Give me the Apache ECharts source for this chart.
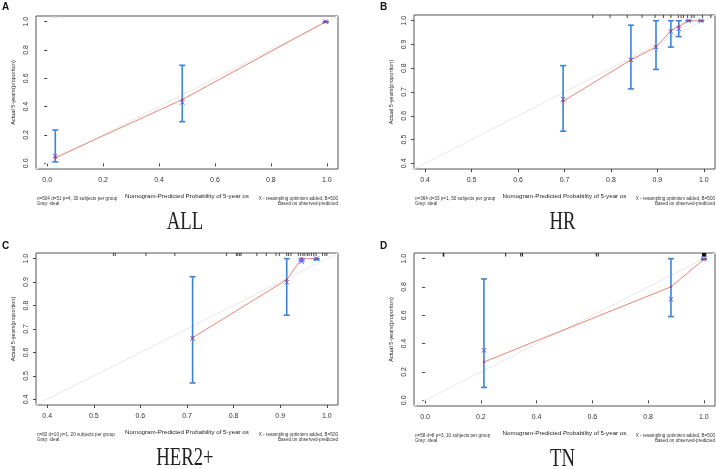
<!DOCTYPE html>
<html><head><meta charset="utf-8">
<script src="https://cdn.jsdelivr.net/npm/echarts@6/dist/echarts.min.js"></script>
<style>html,body{margin:0;padding:0;background:#fff}#c{width:716px;height:469px}</style>
</head><body><div id="c"></div>
<script>
// ---- Panel A (ALL) ----
const predA = [0.029, 0.483, 0.996];
const obsA  = [0.040, 0.450, 1.000];
const corrA = [0.051, 0.430, 1.000];
const lowA  = [0.010, 0.294, 0.995];
const highA = [0.235, 0.692, 1.000];
const rugA  = [0.015, 0.022, 0.030, 0.041, 0.052];
const ticksA = [0.0, 0.2, 0.4, 0.6, 0.8, 1.0];
const rangeA = [-0.04, 1.04];
// ---- Panel B (HR) ----
const predB = [0.697, 0.843, 0.897, 0.929, 0.946, 0.967, 0.994];
const obsB  = [0.661, 0.835, 0.889, 0.958, 0.976, 1.000, 1.000];
const corrB = [0.670, 0.835, 0.889, 0.955, 0.966, 1.000, 1.000];
const lowB  = [0.535, 0.713, 0.795, 0.889, 0.933, 1.000, 1.000];
const highB = [0.811, 0.981, 1.000, 1.000, 1.000, 1.000, 1.000];
const rugB  = [0.761, 0.798, 0.835, 0.867, 0.895, 0.913, 0.929, 0.945, 0.951, 0.956, 0.965, 0.974, 0.979, 0.997, 1.015];
const ticksB = [0.4, 0.5, 0.6, 0.7, 0.8, 0.9, 1.0];
const rangeB = [0.376, 1.024];
// ---- Panel C (HER2+) ----
const predC = [0.712, 0.914, 0.946, 0.978];
const obsC  = [0.663, 0.910, 1.000, 1.000];
const corrC = [0.660, 0.899, 0.987, 1.000];
const lowC  = [0.470, 0.759, 0.990, 0.995];
const highC = [0.923, 1.000, 1.000, 1.000];
const rugC  = [0.542, 0.546, 0.612, 0.674, 0.785, 0.806, 0.809, 0.813, 0.816, 0.850, 0.870, 0.891, 0.898, 0.914, 0.918, 0.923, 0.939, 0.944, 0.949, 0.953, 0.958, 0.962, 0.967, 0.972, 0.977, 0.991, 0.996, 1.000];
const ticksC = [0.4, 0.5, 0.6, 0.7, 0.8, 0.9, 1.0];
const rangeC = [0.376, 1.024];
// ---- Panel D (TN) ----
const predD = [0.211, 0.882, 1.000];
const obsD  = [0.271, 0.801, 0.995];
const corrD = [0.353, 0.713, 1.000];
const lowD  = [0.091, 0.591, 0.995];
const highD = [0.857, 1.000, 1.000];
const rugD  = [0.065, 0.067, 0.289, 0.343, 0.349, 0.614, 0.621, 0.995, 0.997, 0.999, 1.001, 1.003, 1.005, 1.007];
const ticksD = [0.0, 0.2, 0.4, 0.6, 0.8, 1.0];
const rangeD = [-0.04, 1.04];

const infoTexts = ['n=504 d=51 p=4, 30 subjects per group', 'n=364 d=33 p=1, 50 subjects per group', 'n=82 d=10 p=1, 20 subjects per group', 'n=58 d=8 p=3, 10 subjects per group'];
const panelTitles = ['ALL', 'HR', 'HER2+', 'TN'];
const panelLetters = ['A', 'B', 'C', 'D'];
const xName = 'Nomogram-Predicted Probability of 5-year os';
const yName = 'Actual 5-years(proportion)';

const panels = [
  {pred: predA, obs: obsA, corr: corrA, low: lowA, high: highA, rug: rugA, ticks: ticksA, range: rangeA, rugColor: '#cfcfcf', rugLen: 2},
  {pred: predB, obs: obsB, corr: corrB, low: lowB, high: highB, rug: rugB, ticks: ticksB, range: rangeB, rugColor: '#333', rugLen: 3},
  {pred: predC, obs: obsC, corr: corrC, low: lowC, high: highC, rug: rugC, ticks: ticksC, range: rangeC, rugColor: '#333', rugLen: 3},
  {pred: predD, obs: obsD, corr: corrD, low: lowD, high: highD, rug: rugD, ticks: ticksD, range: rangeD, rugColor: '#000', rugLen: 3.5}
];
const layouts = [
  {left: 36, top: 16, width: 302, height: 153},
  {left: 414, top: 15, width: 301, height: 154},
  {left: 36, top: 253, width: 302, height: 152},
  {left: 414, top: 253, width: 301, height: 153}
];

const FONT = 'Liberation Sans';
const grids = [], xAxes = [], yAxes = [], series = [], graphics = [];

panels.forEach((p, i) => {
  const L = layouts[i];
  grids.push({left: L.left, top: L.top, width: L.width, height: L.height, show: true, borderColor: '#555', borderWidth: 1, backgroundColor: 'transparent'});
  const fmt = v => v.toFixed(1);
  xAxes.push({
    type: 'value', gridIndex: i, min: p.range[0], max: p.range[1],
    axisLine: {show: false}, splitLine: {show: false},
    axisTick: {show: true, length: 3, customValues: p.ticks, lineStyle: {color: '#444'}},
    axisLabel: {customValues: p.ticks, formatter: fmt, fontSize: 7, color: '#333', fontFamily: FONT, margin: 8},
    name: xName, nameLocation: 'middle', nameGap: 24,
    nameTextStyle: {fontSize: 6.2, color: '#222', fontFamily: FONT}
  });
  yAxes.push({
    type: 'value', gridIndex: i, min: p.range[0], max: p.range[1],
    axisLine: {show: false}, splitLine: {show: false},
    axisTick: {show: true, length: 3, customValues: p.ticks, lineStyle: {color: '#444'}},
    axisLabel: {customValues: p.ticks, formatter: fmt, fontSize: 7, color: '#333', fontFamily: FONT, rotate: 90, margin: 6},
    name: yName, nameLocation: 'middle', nameGap: 20,
    nameTextStyle: {fontSize: 5.6, color: '#222', fontFamily: FONT}
  });
  // ideal line
  series.push({type: 'line', xAxisIndex: i, yAxisIndex: i, data: [[p.range[0], p.range[0]], [p.range[1], p.range[1]]],
    showSymbol: false, silent: true, lineStyle: {color: '#ececec', width: 1.3}, z: 1});
  // rug
  series.push({type: 'custom', xAxisIndex: i, yAxisIndex: i, data: p.rug.map(x => [x, p.range[1]]), z: 2, silent: true,
    renderItem: (params, api) => {
      const c = api.coord([api.value(0), api.value(1)]);
      return {type: 'line', shape: {x1: c[0], y1: c[1], x2: c[0], y2: c[1] + p.rugLen}, style: {stroke: p.rugColor, lineWidth: 0.9}};
    }});
  // observed red line
  series.push({type: 'line', xAxisIndex: i, yAxisIndex: i, data: p.pred.map((x, k) => [x, p.obs[k]]),
    showSymbol: false, lineStyle: {color: '#ec8575', width: 1}, z: 3, silent: true});
  // error bars
  series.push({type: 'custom', xAxisIndex: i, yAxisIndex: i, data: p.pred.map((x, k) => [x, p.low[k], p.high[k]]), z: 4, silent: true,
    renderItem: (params, api) => {
      const a = api.coord([api.value(0), api.value(1)]);
      const b = api.coord([api.value(0), api.value(2)]);
      const w = 3, st = {stroke: '#3a84d8', lineWidth: 1.6};
      return {type: 'group', children: [
        {type: 'line', shape: {x1: a[0], y1: a[1], x2: b[0], y2: b[1]}, style: st},
        {type: 'line', shape: {x1: a[0] - w, y1: a[1], x2: a[0] + w, y2: a[1]}, style: st},
        {type: 'line', shape: {x1: b[0] - w, y1: b[1], x2: b[0] + w, y2: b[1]}, style: st}
      ]};
    }});
  // corrected blue x
  series.push({type: 'custom', xAxisIndex: i, yAxisIndex: i, data: p.pred.map((x, k) => [x, p.corr[k]]), z: 5, silent: true,
    renderItem: (params, api) => {
      const c = api.coord([api.value(0), api.value(1)]);
      const s = 2.2, st = {stroke: '#5a5af0', lineWidth: 1};
      return {type: 'group', children: [
        {type: 'line', shape: {x1: c[0] - s, y1: c[1] - s, x2: c[0] + s, y2: c[1] + s}, style: st},
        {type: 'line', shape: {x1: c[0] - s, y1: c[1] + s, x2: c[0] + s, y2: c[1] - s}, style: st}
      ]};
    }});
  // observed red points
  series.push({type: 'scatter', xAxisIndex: i, yAxisIndex: i, data: p.pred.map((x, k) => [x, p.obs[k]]),
    symbol: 'circle', symbolSize: 2.6, itemStyle: {color: '#d43a3a'}, z: 6, silent: true});

  // texts under the plot
  const bottom = L.top + L.height;
  const right = L.left + L.width;
  const small = {font: '4.6px "Liberation Sans"', fill: '#333'};
  graphics.push({type: 'text', x: L.left + 1, y: bottom + 27, style: Object.assign({text: infoTexts[i] + '\nGray: ideal', lineHeight: 5.2, textAlign: 'left', textVerticalAlign: 'top'}, small)});
  graphics.push({type: 'text', x: right, y: bottom + 27, style: Object.assign({text: 'X - resampling optimism added, B=500\nBased on observed-predicted', lineHeight: 5.2, textAlign: 'right', textVerticalAlign: 'top'}, small)});
  graphics.push({type: 'text', x: L.left + L.width / 2 - 2, y: bottom + 53, scaleX: 0.72,
    style: {text: panelTitles[i], font: '26px "Liberation Serif"', fill: '#222', textAlign: 'center', textVerticalAlign: 'middle'}});
  graphics.push({type: 'text', x: (i % 2 === 0 ? 2 : 380), y: (i < 2 ? 2 : 241),
    style: {text: panelLetters[i], font: 'bold 10px "Liberation Sans"', fill: '#111', textAlign: 'left', textVerticalAlign: 'top'}});
});

const chart = echarts.init(document.getElementById('c'), null, {renderer: 'canvas'});
chart.setOption({
  backgroundColor: '#fff', animation: false,
  grid: grids, xAxis: xAxes, yAxis: yAxes, series: series, graphic: graphics
});
</script></body></html>
